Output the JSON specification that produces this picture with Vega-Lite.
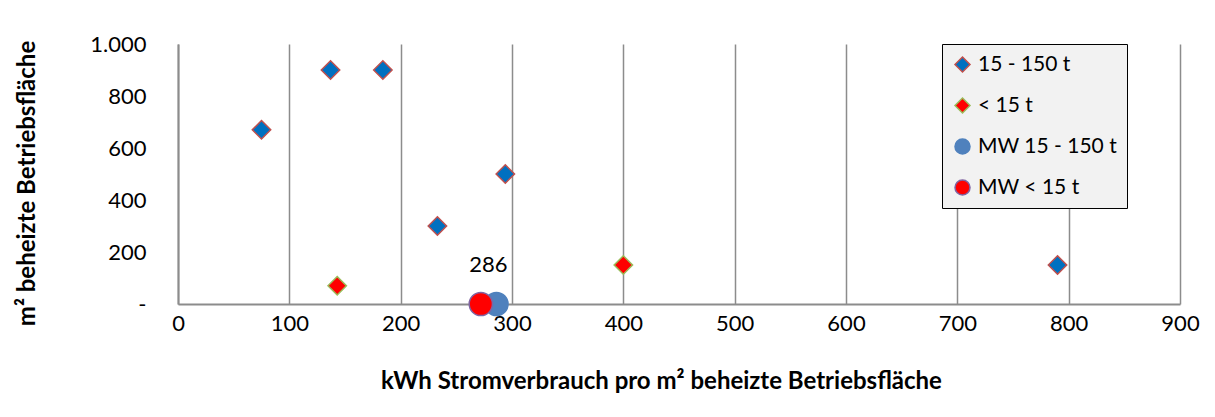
{
  "$schema": "https://vega.github.io/schema/vega-lite/v6.json",
  "autosize": {"type": "none"},
  "width": 1002,
  "height": 260,
  "padding": {"left": 178, "top": 44, "right": 35, "bottom": 113},
  "background": "white",
  "config": {
    "font": "Lato",
    "view": {"stroke": null},
    "axis": {"labelFont": "Lato", "titleFont": "Lato", "labelColor": "#000000", "titleColor": "#000000"},
    "legend": {
      "orient": "none", "legendX": 764, "legendY": 0,
      "fillColor": "#f2f2f2", "strokeColor": "#000000",
      "padding": 10, "rowPadding": 19, "labelFontSize": 21, "labelFont": "Lato",
      "labelColor": "#000000", "symbolSize": 225, "symbolStrokeWidth": 1.5,
      "labelOffset": 5
    }
  },
  "data": {
    "values": [
      {"series": "15 - 150 t", "kwh": 75, "area": 670},
      {"series": "15 - 150 t", "kwh": 137, "area": 900},
      {"series": "15 - 150 t", "kwh": 184, "area": 900},
      {"series": "15 - 150 t", "kwh": 233, "area": 300},
      {"series": "15 - 150 t", "kwh": 294, "area": 500},
      {"series": "15 - 150 t", "kwh": 790, "area": 150},
      {"series": "< 15 t", "kwh": 143, "area": 70},
      {"series": "< 15 t", "kwh": 400, "area": 150},
      {"series": "MW 15 - 150 t", "kwh": 286, "area": 0, "label": "286"},
      {"series": "MW < 15 t", "kwh": 272, "area": 0}
    ]
  },
  "encoding": {
    "x": {
      "field": "kwh", "type": "quantitative",
      "scale": {"domain": [0, 900], "nice": false, "zero": true},
      "axis": {
        "title": "kWh Stromverbrauch pro m² beheizte Betriebsfläche",
        "values": [0, 100, 200, 300, 400, 500, 600, 700, 800, 900],
        "grid": true, "gridColor": "#8c8c8c", "gridWidth": 1.5, "gridOpacity": 1,
        "domainColor": "#8c8c8c", "domainWidth": 2,
        "ticks": false, "labelPadding": 9, "labelFontSize": 22,
        "labelFlush": false,
        "titleFontSize": 24, "titleFontWeight": "bold",
        "titleX": 483, "titleY": 77, "titleBaseline": "middle", "titleAnchor": "middle"
      }
    },
    "y": {
      "field": "area", "type": "quantitative",
      "scale": {"domain": [0, 1000], "nice": false},
      "axis": {
        "title": "m² beheizte Betriebsfläche",
        "values": [0, 200, 400, 600, 800, 1000],
        "labelExpr": "datum.value == 0 ? '-' : replace(format(datum.value, ','), ',', '.')",
        "grid": false, "ticks": false,
        "domainColor": "#8c8c8c", "domainWidth": 2,
        "labelPadding": 32, "labelFontSize": 22, "labelFlush": false,
        "titleFontSize": 24, "titleFontWeight": "bold",
        "titleX": -151, "titleY": 139, "titleAngle": -90, "titleBaseline": "middle", "titleAnchor": "middle"
      }
    }
  },
  "layer": [
    {
      "transform": [{"filter": "indexof(datum.series, 'MW') < 0"}],
      "mark": {"type": "point", "filled": true, "opacity": 1, "strokeWidth": 1.5, "size": 340},
      "encoding": {
        "shape": {
          "field": "series", "type": "nominal", "title": null,
          "scale": {
            "domain": ["15 - 150 t", "< 15 t", "MW 15 - 150 t", "MW < 15 t"],
            "range": ["diamond", "diamond", "circle", "circle"]
          }
        },
        "fill": {
          "field": "series", "type": "nominal", "title": null,
          "scale": {
            "domain": ["15 - 150 t", "< 15 t", "MW 15 - 150 t", "MW < 15 t"],
            "range": ["#0070C0", "#FF0000", "#4F81BD", "#FF0000"]
          }
        },
        "stroke": {
          "field": "series", "type": "nominal", "title": null,
          "scale": {
            "domain": ["15 - 150 t", "< 15 t", "MW 15 - 150 t", "MW < 15 t"],
            "range": ["#C0504D", "#9BBB59", "#4F81BD", "#8064A2"]
          }
        }
      }
    },
    {
      "transform": [{"filter": "indexof(datum.series, 'MW') >= 0"}],
      "mark": {"type": "point", "filled": true, "opacity": 1, "strokeWidth": 1.5, "size": 540},
      "encoding": {
        "shape": {"field": "series", "type": "nominal", "title": null},
        "fill": {"field": "series", "type": "nominal", "title": null},
        "stroke": {"field": "series", "type": "nominal", "title": null}
      }
    },
    {
      "transform": [{"filter": "isValid(datum.label)"}],
      "mark": {"type": "text", "fontSize": 22, "font": "Lato", "color": "#000000", "dy": -39, "dx": -8, "baseline": "middle"},
      "encoding": {
        "text": {"field": "label"}
      }
    }
  ]
}
